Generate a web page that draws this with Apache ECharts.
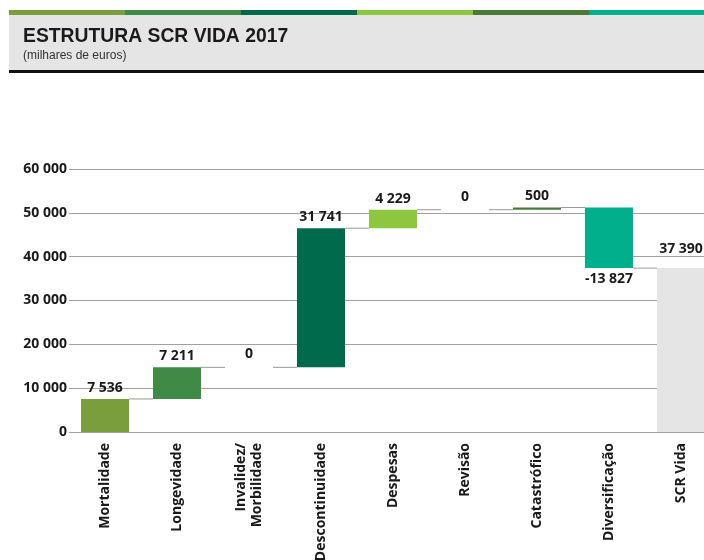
<!DOCTYPE html>
<html>
<head>
<meta charset="utf-8">
<script src="https://cdn.jsdelivr.net/npm/echarts@6/dist/echarts.min.js"></script>
<style>
  html, body { margin: 0; padding: 0; background: #fff; }
  #chart { width: 704px; height: 560px; }
</style>
</head>
<body>
<div id="chart"></div>
<script>
"use strict";

// categorias e variações (milhares de euros)
const categories = ['Mortalidade', 'Longevidade', 'Invalidez/\nMorbilidade', 'Descontinuidade',
  'Despesas', 'Revisão', 'Catastrófico', 'Diversificação', 'SCR Vida'];
const deltas = [7536, 7211, 0, 31741, 4229, 0, 500, -13827];
const total = 37390;
const barColors = ['#7a9e3c', '#3f8a47', '#3f8a47', '#006a4d', '#8dc63f', '#4a7a37', '#4a7a37', '#00b08c', '#e5e5e5'];
const stripeColors = ['#7a9e3c', '#3f8a47', '#006a4d', '#8dc63f', '#4a7a37', '#00b08c'];
const yTicks = [0, 10000, 20000, 30000, 40000, 50000, 60000];

const fmt = (v) => {
  let s = String(Math.abs(v)).replace(/\B(?=(\d{3})+(?!\d))/g, ' ');
  return v < 0 ? '-' + s : s;
};

// base invisível + altura visível
let base = [];
let heights = [];
let levels = []; // nível acumulado depois de cada barra
let cum = 0;
deltas.forEach((d) => {
  let next = cum + d;
  base.push(Math.min(cum, next));
  heights.push(Math.abs(d));
  levels.push(next);
  cum = next;
});
base.push(0);
heights.push(total);

const barW = 48;

let chart = echarts.init(document.getElementById('chart'));

let stripes = stripeColors.map((c, i) => ({
  type: 'rect',
  shape: { x: 9 + i * 116, y: 10, width: 117, height: 5 },
  style: { fill: c },
  silent: true
}));

chart.setOption({
  animation: false,
  graphic: stripes.concat([
    { type: 'rect', shape: { x: 9, y: 15, width: 700, height: 55 }, style: { fill: '#e5e5e5' }, silent: true },
    { type: 'rect', shape: { x: 9, y: 70, width: 700, height: 3 }, style: { fill: '#111' }, silent: true },
    {
      type: 'text', x: 23, y: 26, scaleX: 0.92,
      style: { text: 'ESTRUTURA SCR VIDA 2017', fill: '#1a1a1a', font: 'bold 21px "Liberation Sans", Arial, sans-serif' }
    },
    {
      type: 'text', x: 23, y: 50,
      style: { text: '(milhares de euros)', fill: '#333', font: '12px "Liberation Sans", Arial, sans-serif' }
    }
  ]),
  grid: { left: 69, width: 648, top: 169, bottom: 128, outerBoundsMode: 'none', containLabel: false },
  xAxis: {
    type: 'category',
    data: categories,
    axisLine: { show: false },
    axisTick: { show: false },
    axisLabel: {
      rotate: 90,
      margin: 11,
      interval: 0,
      color: '#1a1a1a',
      fontSize: 14,
      fontWeight: 'bold',
      fontFamily: 'Open Sans',
      lineHeight: 16
    }
  },
  yAxis: {
    type: 'value',
    min: yTicks[0],
    max: yTicks[yTicks.length - 1],
    interval: 10000,
    axisLine: { show: false },
    axisTick: { show: false },
    splitLine: { lineStyle: { color: '#a0a0a0', width: 1 } },
    axisLabel: {
      margin: 2,
      color: '#1a1a1a',
      fontSize: 14,
      fontWeight: 'bold',
      fontFamily: 'Open Sans',
      formatter: (v) => fmt(v)
    }
  },
  series: [
    {
      type: 'bar',
      stack: 'wf',
      barWidth: barW,
      itemStyle: { color: 'transparent' },
      data: base,
      silent: true
    },
    {
      type: 'bar',
      stack: 'wf',
      barWidth: barW,
      data: heights.map((h, i) => {
        let neg = i < deltas.length && deltas[i] < 0;
        let val = i < deltas.length ? deltas[i] : total;
        return {
          value: h,
          itemStyle: { color: barColors[i] },
          label: {
            show: true,
            position: neg ? 'bottom' : 'top',
            distance: i === categories.length - 1 ? 12 : (h === 0 ? 6 : 4),
            formatter: () => fmt(val),
            color: '#1a1a1a',
            fontSize: 14,
            fontWeight: 'bold',
            fontFamily: 'Open Sans'
          }
        };
      })
    },
    {
      type: 'custom',
      silent: true,
      z: 1,
      data: levels.map((lv, i) => [i, lv]),
      renderItem: (params, api) => {
        let i = api.value(0);
        let lv = api.value(1);
        let p1 = api.coord([i, lv]);
        let p2 = api.coord([i + 1, lv]);
        return {
          type: 'line',
          shape: { x1: p1[0] + barW / 2, y1: p1[1], x2: p2[0] - barW / 2, y2: p2[1] },
          style: { stroke: '#999', lineWidth: 1 }
        };
      }
    }
  ]
});
</script>
</body>
</html>
